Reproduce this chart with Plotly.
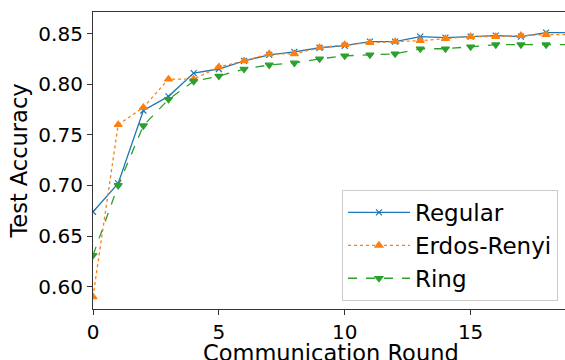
import plotly.graph_objects as go

rounds = list(range(20))
regular = [0.674, 0.702, 0.774, 0.788, 0.811, 0.815, 0.823, 0.829, 0.832, 0.836,
           0.838, 0.842, 0.842, 0.847, 0.846, 0.847, 0.848, 0.847, 0.851, 0.851]
erdos_renyi = [0.590, 0.760, 0.777, 0.805, 0.805, 0.817, 0.823, 0.830, 0.830, 0.836,
               0.839, 0.841, 0.842, 0.843, 0.845, 0.847, 0.847, 0.848, 0.849, 0.849]
ring = [0.631, 0.700, 0.759, 0.785, 0.803, 0.808, 0.815, 0.819, 0.821, 0.825,
        0.828, 0.829, 0.830, 0.835, 0.835, 0.837, 0.839, 0.839, 0.839, 0.839]

x_title = "Communication Round"
y_title = "Test Accuracy"

series = [
    ("Regular", regular, "#1f77b4", "solid", "x-thin", 6),
    ("Erdos-Renyi", erdos_renyi, "#ff7f0e", "dot", "triangle-up", 7),
    ("Ring", ring, "#2ca02c", "dash", "triangle-down", 7),
]

fig = go.Figure()
for name, vals, color, dash, sym, msize in series:
    fig.add_trace(go.Scatter(
        x=rounds, y=vals, name=name, mode="lines+markers",
        line=dict(color=color, width=1.3, dash=dash),
        marker=dict(symbol=sym, size=msize, color=color,
                    line=dict(color=color, width=1.2)),
    ))

font_family = "DejaVu Sans"
fig.update_layout(
    width=565, height=360,
    margin=dict(l=93, r=0, t=12, b=51),
    paper_bgcolor="white", plot_bgcolor="white",
    font=dict(family=font_family, size=20, color="black"),
    showlegend=True,
    legend=dict(
        x=0.5275, y=0.4007, xanchor="left", yanchor="top",
        bgcolor="rgba(255,255,255,0.85)", bordercolor="#cccccc", borderwidth=1,
        font=dict(size=23), itemwidth=62, tracegroupgap=0,
    ),
    annotations=[dict(
        text=x_title, xref="paper", yref="paper", x=0.505, y=-0.147,
        xanchor="center", yanchor="middle", showarrow=False,
        font=dict(size=22.5, family=font_family, color="black"),
    )],
)
fig.update_xaxes(
    range=[0, 18.75], tickvals=[0, 5, 10, 15], ticktext=["0", "5", "10", "15"],
    automargin=False,
    showgrid=False, zeroline=False, showline=True, linecolor="#333333", linewidth=1.2,
    mirror=True, ticks="outside", ticklen=5, tickcolor="#333333",
    tickfont=dict(size=20),
)
fig.update_yaxes(
    range=[0.578, 0.8713], tickvals=[0.60, 0.65, 0.70, 0.75, 0.80, 0.85],
    ticktext=["0.60", "0.65", "0.70", "0.75", "0.80", "0.85"],
    automargin=False,
    showgrid=False, zeroline=False, showline=True, linecolor="#333333", linewidth=1.2,
    ticks="outside", ticklen=5, tickcolor="#333333",
    title=dict(text=y_title, standoff=4, font=dict(size=22.5)),
    tickfont=dict(size=20),
)

fig.write_html("out.html", config={"displayModeBar": False},
               post_script="document.body.style.margin='0';document.body.style.overflow='hidden';")
